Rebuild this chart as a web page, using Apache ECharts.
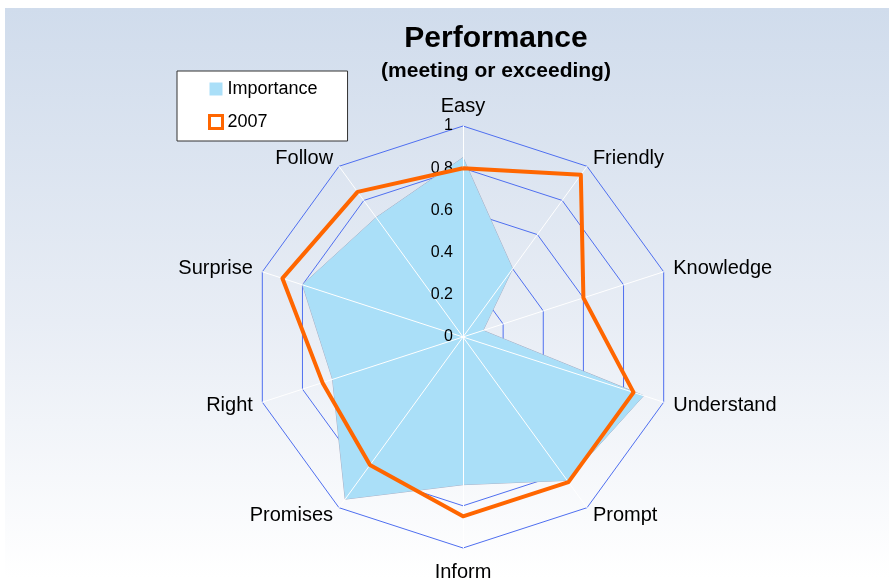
<!DOCTYPE html>
<html>
<head>
<meta charset="utf-8">
<script src="https://cdn.jsdelivr.net/npm/echarts@6/dist/echarts.min.js"></script>
<style>
  html, body { margin: 0; padding: 0; background: #fff; }
  #chart { width: 894px; height: 578px; }
</style>
</head>
<body>
<div id="chart"></div>
<script>
// axes of the radar, clockwise from the top
var indicators = ['Easy', 'Friendly', 'Knowledge', 'Understand', 'Prompt', 'Inform', 'Promises', 'Right', 'Surprise', 'Follow'];
var importance = [0.85, 0.40, 0.10, 0.90, 0.84, 0.70, 0.95, 0.65, 0.80, 0.70];
var year2007 = [0.80, 0.95, 0.60, 0.85, 0.85, 0.85, 0.75, 0.70, 0.90, 0.85];
var axisMin = 0;
var axisMax = 1;
var tickCount = 5; // 0, 0.2 ... 1

var font = 'Liberation Sans, Arial, sans-serif';

// echarts lays radar axes out counter-clockwise, so keep the first one and flip the rest
function ccw(arr) {
  return [arr[0]].concat(arr.slice(1).reverse());
}

// first axis carries the tick labels
function makeIndicators(withLabels) {
  return ccw(indicators).map(function (n, i) {
    var ind = { name: n, min: axisMin, max: axisMax };
    if (withLabels && i === 0) {
      ind.axisLabel = { show: true };
    }
    return ind;
  });
}

var chart = echarts.init(document.getElementById('chart'));
chart.setOption({
  backgroundColor: '#ffffff',
  animation: false,
  graphic: [{
    type: 'rect',
    z: -10,
    shape: { x: 5, y: 8, width: 884, height: 570 },
    style: {
      fill: new echarts.graphic.LinearGradient(0, 0, 0, 1, [
        { offset: 0, color: '#d0dcec' },
        { offset: 0.55, color: '#e8edf5' },
        { offset: 1, color: '#ffffff' }
      ])
    }
  }],
  title: {
    text: 'Performance',
    subtext: '(meeting or exceeding)',
    left: 491,
    top: 19,
    textAlign: 'center',
    itemGap: 7,
    textStyle: { fontFamily: font, fontSize: 30, fontWeight: 'bold', color: '#000' },
    subtextStyle: { fontFamily: font, fontSize: 21, fontWeight: 'bold', color: '#000' }
  },
  legend: {
    orient: 'vertical',
    left: 177,
    top: 71,
    padding: [9, 30, 10, 31],
    backgroundColor: '#fff',
    borderColor: '#333',
    borderWidth: 1,
    itemGap: 15,
    itemWidth: 13,
    itemHeight: 13,
    textStyle: { fontFamily: font, fontSize: 18, color: '#000' },
    data: [
      { name: 'Importance', icon: 'rect', itemStyle: { color: '#aadff8', borderWidth: 0 } },
      { name: '2007', icon: 'rect', itemStyle: { color: '#fff', borderColor: '#ff6600', borderWidth: 3 } }
    ]
  },
  radar: [{
    // blue rings, under the area
    z: 0,
    center: [463, 337],
    radius: 211,
    startAngle: 90,
    splitNumber: tickCount,
    shape: 'polygon',
    indicator: makeIndicators(false),
    axisName: { show: false },
    axisLine: { show: false },
    axisTick: { show: false },
    axisLabel: { show: false },
    splitArea: { show: false },
    splitLine: { lineStyle: { color: '#4f6ff0', width: 1 } }
  }, {
    // white spokes, names and tick labels, over the area
    z: 3,
    center: [463, 337],
    radius: 211,
    startAngle: 90,
    splitNumber: tickCount,
    shape: 'polygon',
    indicator: makeIndicators(true),
    axisNameGap: 10,
    axisName: { color: '#000', fontFamily: font, fontSize: 20, padding: [4, 0, 0, 0] },
    axisLine: { show: true, lineStyle: { color: '#ffffff', width: 1 } },
    axisTick: { show: false },
    axisLabel: { show: false, color: '#000', fontFamily: font, fontSize: 16, margin: 10 },
    splitArea: { show: false },
    splitLine: { show: false }
  }],
  series: [{
    name: 'Importance',
    type: 'radar',
    radarIndex: 0,
    z: 2,
    symbol: 'none',
    lineStyle: { color: '#a8aec4', width: 1 },
    itemStyle: { color: '#aadff8' },
    areaStyle: { color: '#aadff8', opacity: 1 },
    data: [{ name: 'Importance', value: ccw(importance) }]
  }, {
    name: '2007',
    type: 'radar',
    radarIndex: 1,
    z: 4,
    symbol: 'none',
    lineStyle: { color: '#ff6600', width: 4 },
    itemStyle: { color: '#ff6600' },
    data: [{ name: '2007', value: ccw(year2007) }]
  }]
});
</script>
</body>
</html>
